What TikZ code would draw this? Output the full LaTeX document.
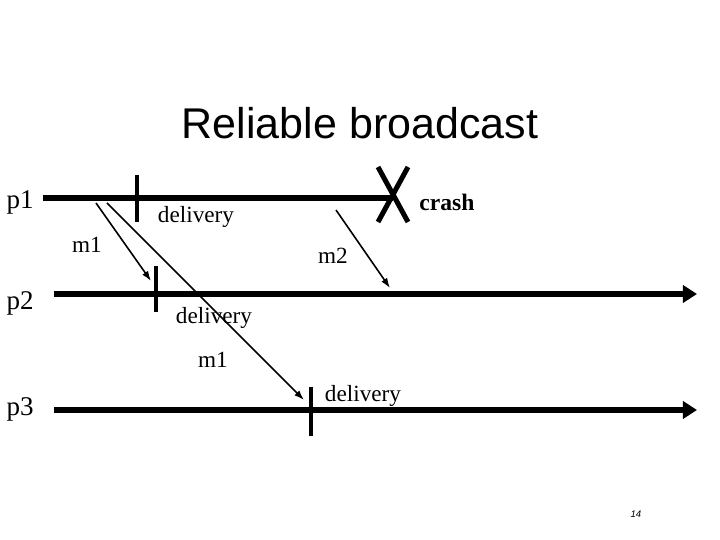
\documentclass[tikz,border=0pt]{standalone}
\usepackage{fontspec}
\setmainfont{Liberation Serif}
\newfontfamily\titlefont{Liberation Sans}
\usetikzlibrary{arrows.meta}

\tikzset{
	proc/.style={line width=3pt},
	tick/.style={line width=2pt},
	msg/.style={line width=0.8pt,-{Latex[length=5pt,width=3.5pt]}},
	lbl/.style={inner sep=0pt,font=\fontsize{11.6}{13}\selectfont},
	plbl/.style={inner sep=0pt,font=\fontsize{13.5}{15}\selectfont}
}

\begin{document}
\begin{tikzpicture}[x=0.5pt,y=-0.5pt]

	\useasboundingbox (0,0) rectangle (720,540);

	\node[inner sep=0pt,font=\titlefont\fontsize{21.5}{24}\selectfont] (title) at (360,123) {Reliable broadcast};

	\node[plbl] (p1) at (20,202) {p1};
	\node[plbl] (p2) at (20,303) {p2};
	\node[plbl] (p3) at (20,409) {p3};

	% process lines
	\coordinate (s1) at (43,198);
	\coordinate (x1) at (393,198);
	\coordinate (s2) at (54,294);
	\coordinate (e2) at (697,294);
	\coordinate (s3) at (54,410);
	\coordinate (e3) at (697,410);

	\draw[proc] (s1) -- (x1);
	\draw[proc,-{Triangle[length=7pt,width=8.5pt]}] (s2) -- (e2);
	\draw[proc,-{Triangle[length=7pt,width=8.5pt]}] (s3) -- (e3);

	% crash
	\coordinate (c1) at (378,167);
	\coordinate (c2) at (408,222);
	\coordinate (c3) at (408,167);
	\coordinate (c4) at (378,222);
	\draw[line width=2.5pt] (c1) -- (c2) (c3) -- (c4);
	\node[lbl,font=\bfseries\fontsize{11.8}{13}\selectfont] (crash) at (447,202) {crash};

	% deliveries
	\coordinate (t1a) at (137,175);
	\coordinate (t1b) at (137,222);
	\coordinate (t2a) at (156,266);
	\coordinate (t2b) at (156,312);
	\coordinate (t3a) at (311,387);
	\coordinate (t3b) at (311,436);
	\draw[tick] (t1a) -- (t1b);
	\draw[tick] (t2a) -- (t2b);
	\draw[tick] (t3a) -- (t3b);

	\node[lbl] (d1) at (196,217) {delivery};
	\node[lbl] (d2) at (214,318) {delivery};
	\node[lbl] (d3) at (363,396) {delivery};

	% messages
	\coordinate (a1) at (96,203);
	\coordinate (b1) at (151,281);
	\coordinate (a2) at (107,203);
	\coordinate (b2) at (304,400);
	\coordinate (a3) at (336,210);
	\coordinate (b3) at (390,288);

	\draw[msg] (a1) -- (b1);
	\draw[msg] (a2) -- (b2);
	\draw[msg] (a3) -- (b3);

	\node[lbl] (m1a) at (87,245) {m1};
	\node[lbl] (m1b) at (213,360) {m1};
	\node[lbl] (m2) at (333,256) {m2};

	\node[inner sep=0pt,font=\titlefont\itshape\fontsize{4.8}{6}\selectfont] (page) at (636,514) {14};

\end{tikzpicture}
\end{document}
